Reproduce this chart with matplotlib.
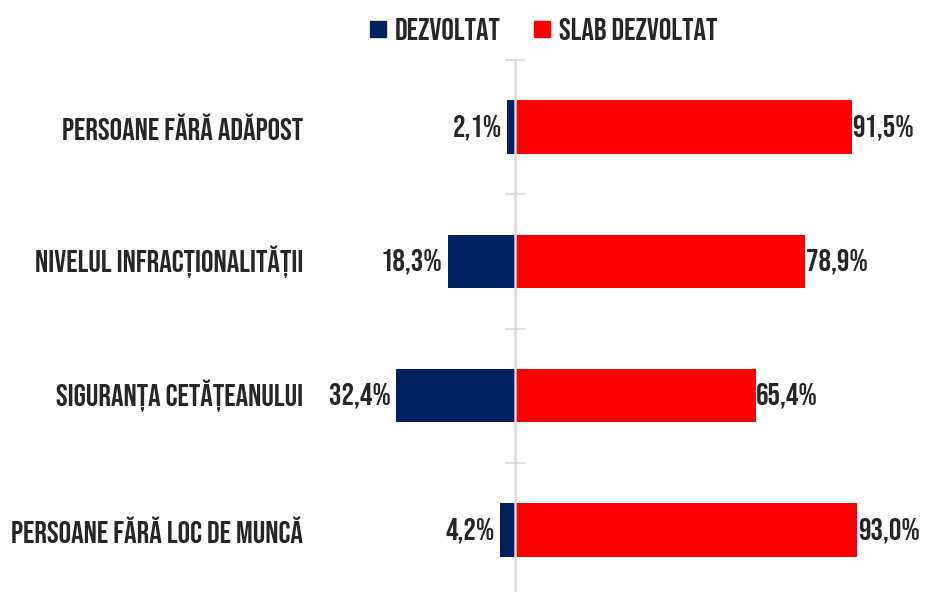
import matplotlib.pyplot as plt
from matplotlib.lines import Line2D

categories = ["PERSOANE FĂRĂ ADĂPOST", "NIVELUL INFRACȚIONALITĂȚII",
              "SIGURANȚA CETĂȚEANULUI", "PERSOANE FĂRĂ LOC DE MUNCĂ"]
dezvoltat = [2.1, 18.3, 32.4, 4.2]
slab_dezvoltat = [91.5, 78.9, 65.4, 93.0]
dez_labels = ["2,1%", "18,3%", "32,4%", "4,2%"]
slab_labels = ["91,5%", "78,9%", "65,4%", "93,0%"]

navy = "#002060"
red = "#FF0000"
grey = "#d9d9d9"
txt = "#262626"

plt.rcParams["font.family"] = ["Bebas Neue", "DejaVu Sans"]

W, H = 925, 592
fig = plt.figure(figsize=(W / 100, H / 100), dpi=100)
# axes spans full width; category slots from y=60px down to 597px
ax = fig.add_axes([0, (H - 597) / H, 1, (597 - 60) / H])

px = 3.68  # pixels per percent
cx = 515
ax.set_xlim(-cx / px, (W - cx) / px)
ax.set_ylim(3.5, -0.5)

y = list(range(len(categories)))
neg = [-v for v in dezvoltat]
ax.barh(y, neg, height=0.4, color=navy)
ax.barh(y, slab_dezvoltat, height=0.4, color=red)

fs = 22.5
for i in y:
    ax.annotate(dez_labels[i], (neg[i], i), xytext=(-3.5, 0), textcoords="offset points",
                ha="right", va="center", fontsize=fs, color=txt)
    ax.annotate(slab_labels[i], (slab_dezvoltat[i], i), xytext=(0.5, 0), textcoords="offset points",
                ha="left", va="center", fontsize=fs, color=txt)
    ax.text((303 - cx) / px, i, categories[i], ha="right", va="center",
            fontsize=fs, color=txt)

for s in ["top", "right", "bottom"]:
    ax.spines[s].set_visible(False)
ax.spines["left"].set_position(("data", 0))
ax.spines["left"].set_color(grey)
ax.spines["left"].set_linewidth(1.8)
ax.spines["left"].set_zorder(3)
ax.set_yticks([-0.5, 0.5, 1.5, 2.5, 3.5])
ax.tick_params(axis="y", direction="inout", length=14, width=1.2, color=grey, labelleft=False)
ax.set_xticks([])
ax.patch.set_alpha(0)

handles = [Line2D([], [], marker="s", linestyle="none", markersize=11.5, color=navy),
           Line2D([], [], marker="s", linestyle="none", markersize=11.5, color=red)]
fig.legend(handles, ["DEZVOLTAT", "SLAB DEZVOLTAT"], loc="center",
           bbox_to_anchor=(543 / W, 1 - 29 / H), ncol=2, frameon=False,
           prop={"size": fs}, labelcolor=txt,
           handletextpad=0.25, columnspacing=1.0, handlelength=0.6)

fig.savefig("out.png", dpi=100)
